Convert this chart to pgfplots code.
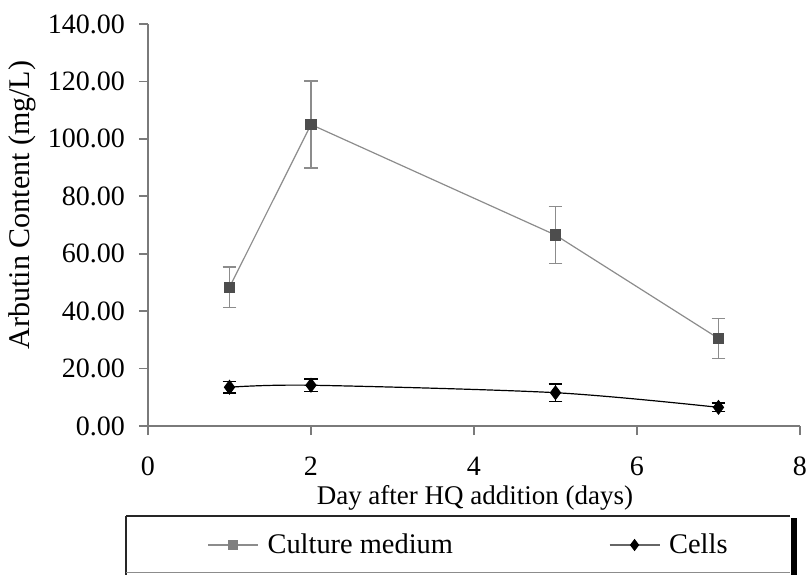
\documentclass[border=0pt]{standalone}
\usepackage{fontspec}
\setmainfont{Liberation Serif}
\usepackage{pgfplots}
\pgfplotsset{compat=1.18}
\definecolor{medline}{HTML}{8C8C8C}
\definecolor{medmark}{HTML}{4D4D4D}
\definecolor{medleg}{HTML}{808080}
\definecolor{axgray}{HTML}{7A7A7A}
\begin{document}
\begin{tikzpicture}
\begin{axis}[
  name=ax, at={(0,0)}, anchor=south west,
  scale only axis, width=326pt, height=201pt,
  xmin=0, xmax=8, ymin=0, ymax=140,
  axis x line*=bottom, axis y line*=left,
  axis line style={axgray, line width=0.8pt, -},
  xtick={0,2,4,6,8}, ytick={0,20,...,140},
  tick style={axgray, line width=0.8pt},
  tick align=outside, major tick length=4.5pt,
  /pgf/number format/assume math mode=true,
  ticklabel style={font=\fontsize{14}{16}\selectfont, black},
  xticklabel style={yshift=-7.5pt},
  yticklabel style={xshift=-3.5pt, /pgf/number format/.cd, fixed, fixed zerofill, precision=2},
  every axis x label/.style={at={(axis description cs:0.5015,-0.178)}, anchor=center, font=\fontsize{13.5}{15}\selectfont},
  every axis y label/.style={at={(axis description cs:-0.193,0.55)}, rotate=90, anchor=center, font=\fontsize{15}{17}\selectfont},
  xlabel={Day after HQ addition (days)},
  ylabel={Arbutin Content (mg/L)},
  clip=false,
  legend columns=2,
  legend style={at={(axis description cs:0.0905,-0.296)}, anchor=west, draw=none, fill=none,
    inner xsep=0pt, inner ysep=0pt, font=\fontsize{14.2}{16}\selectfont,
    /tikz/every odd column/.append style={column sep=2.5pt},
    /tikz/every even column/.append style={column sep=76pt},
    nodes={inner xsep=2pt, inner ysep=1pt}},
  legend image code/.code={\draw[mark repeat=2,mark phase=2,#1] plot coordinates {(0pt,0pt) (12.5pt,0pt) (25pt,0pt)};},
]
\addplot[forget plot, medline, line width=0.6pt, mark=square*, mark size=2.5pt,
  mark options={draw=medmark, fill=medmark, solid},
  error bars/.cd, y dir=both, y explicit,
  error bar style={medline, line width=0.8pt},
  error mark options={rotate=90, mark size=3.4pt, medline, line width=0.8pt}]
  coordinates {(1,48.3) +- (0,7.0) (2,105) +- (0,15.2) (5,66.5) +- (0,9.9) (7,30.5) +- (0,7.0)};
\addplot[forget plot, black, line width=0.6pt, smooth, mark=diamond*, mark size=3.3pt,
  mark options={fill=black, solid},
  error bars/.cd, y dir=both, y explicit,
  error bar style={black, line width=0.8pt},
  error mark options={rotate=90, mark size=3.4pt, black, line width=0.8pt}]
  coordinates {(1,13.5) +- (0,2.0) (2,14.2) +- (0,2.2) (5,11.6) +- (0,3.0) (7,6.5) +- (0,1.5)};
\addlegendimage{medline, line width=0.6pt, mark=square*, mark size=2.2pt, mark options={draw=medleg, fill=medleg}}
\addlegendentry{Culture medium}
\addlegendimage{black!60, line width=0.6pt, mark=diamond*, mark size=2.6pt, mark options={draw=black, fill=black}}
\addlegendentry{Cells}
\end{axis}
\draw[shift={(ax.south west)}, black!85, line width=0.9pt] (-11pt,-45pt) -- (321pt,-45pt);
\draw[shift={(ax.south west)}, black!85, line width=0.9pt] (-11pt,-45pt) -- (-11pt,-80pt);
\draw[shift={(ax.south west)}, black!45, line width=0.6pt] (-11pt,-73.4pt) -- (321pt,-73.4pt);
\draw[shift={(ax.south west)}, black, line width=3.2pt] (323pt,-46pt) -- (323pt,-80pt);
\pgfresetboundingbox
\path[shift={(ax.south west)}] (-74pt,-74pt) rectangle (330pt,213pt);
\end{tikzpicture}
\end{document}
